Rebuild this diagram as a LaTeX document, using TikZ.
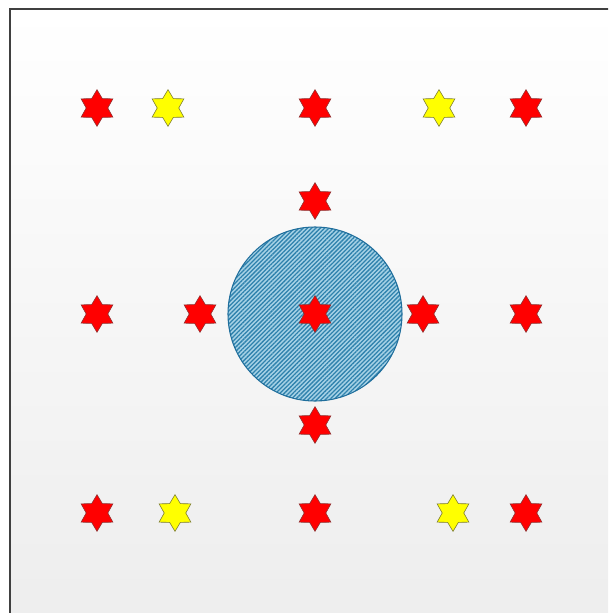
\documentclass[tikz,border=0pt]{standalone}
\usepackage{tikz}
\usetikzlibrary{shapes.geometric, patterns.meta}
\definecolor{starred}{HTML}{FF0000}
\definecolor{staryellow}{HTML}{FFFF00}
\definecolor{redrim}{HTML}{8C3030}
\definecolor{yellowrim}{HTML}{7A7A30}
\definecolor{zonerim}{HTML}{1F6E9C}
\definecolor{hatchblue}{HTML}{2F82AD}
\definecolor{paleblue}{HTML}{A6D2E6}
\definecolor{framegray}{HTML}{404040}

\begin{document}
\begin{tikzpicture}[x=0.03cm, y=-0.03cm,
  redstar/.style={star, star points=6, star point ratio=1.7,
                  minimum size=1.1cm, inner sep=0pt,
                  fill=starred, draw=redrim, line width=0.5pt},
  yellowstar/.style={redstar, fill=staryellow, draw=yellowrim},
  zone/.style={circle, minimum size=5.22cm, draw=zonerim, line width=0.9pt,
               preaction={fill=paleblue},
               pattern={Lines[angle=45, distance=2.6pt, line width=1.1pt]},
               pattern color=hatchblue},
]
\useasboundingbox (0,0) rectangle (608,613);
\begin{scope}
\clip (0,0) rectangle (608,613);
\shade[top color=white, bottom color=black!7] (10,9) rectangle (620,625);
\draw[framegray, line width=1pt] (10,9) rectangle (620,625);
\end{scope}

% shielded zone round the middle star
\node[zone] (zone) at (315,314) {};

% top row
\node[redstar] (tl) at (97,108) {};
\node[yellowstar] (tly) at (168,108) {};
\node[redstar] (tc) at (315,108) {};
\node[yellowstar] (try) at (439,108) {};
\node[redstar] (tr) at (526,108) {};

% cross round the zone
\node[redstar] (n) at (315,201) {};
\node[redstar] (ml) at (97,314) {};
\node[redstar] (w) at (200,314) {};
\node[redstar] (c) at (315,314) {};
\node[redstar] (e) at (423,314) {};
\node[redstar] (mr) at (526,314) {};
\node[redstar] (s) at (315,425) {};

% bottom row
\node[redstar] (bl) at (97,513) {};
\node[yellowstar] (bly) at (175,513) {};
\node[redstar] (bc) at (315,513) {};
\node[yellowstar] (bry) at (453,513) {};
\node[redstar] (br) at (526,513) {};
\end{tikzpicture}
\end{document}
